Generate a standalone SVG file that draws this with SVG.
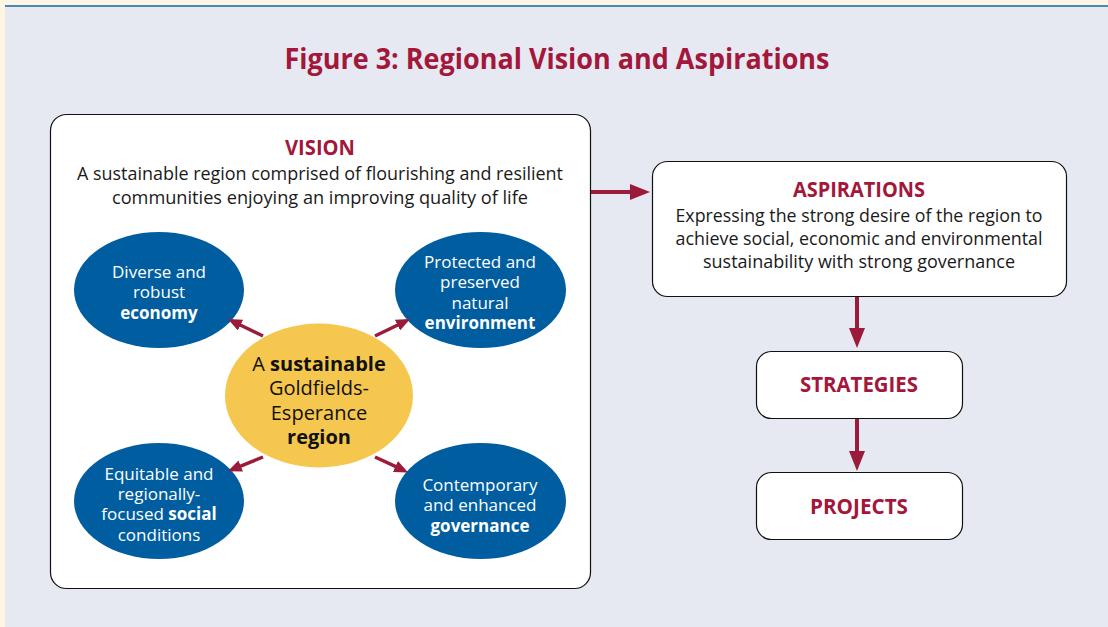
<svg xmlns="http://www.w3.org/2000/svg" width="1108" height="627" viewBox="0 0 1108 627">
<defs>
<style>
.hd{font-family:"Open Sans","Liberation Sans",sans-serif;font-weight:bold;fill:#A3173B;text-anchor:middle}
.bt{font-family:"Open Sans","Liberation Sans",sans-serif;fill:#1a1a1a;text-anchor:middle;font-size:18px}
.wt{font-family:"Open Sans","Liberation Sans",sans-serif;fill:#ffffff;text-anchor:middle;font-size:17px}
.ct{font-family:"Open Sans","Liberation Sans",sans-serif;fill:#111;text-anchor:middle;font-size:20px}
.box{fill:#ffffff;stroke:#111;stroke-width:1.2}
.blue{fill:#005EA0}
.con{stroke:#9B1B3A;fill:none}
</style>
<marker id="big" markerUnits="userSpaceOnUse" markerWidth="20" markerHeight="16" refX="14" refY="8" orient="auto">
<path d="M0,0 L20,8 L0,16 z" fill="#9B1B3A"/>
</marker>
<marker id="small" markerUnits="userSpaceOnUse" markerWidth="14" markerHeight="12" refX="10" refY="6" orient="auto">
<path d="M0,0 L14,6 L0,12 z" fill="#9B1B3A"/>
</marker>
</defs>
<rect x="0" y="0" width="1108" height="627" fill="#FFF5E4"/>
<rect x="5" y="6" width="1103" height="621" fill="#E6E9F2"/>
<line x1="5" y1="6" x2="1108" y2="6" stroke="#4A8AB5" stroke-width="2"/>
<text class="hd" x="557" y="69" font-size="29" textLength="545" lengthAdjust="spacingAndGlyphs">Figure 3: Regional Vision and Aspirations</text>

<g id="vision">
<rect class="box" x="50.5" y="114.5" width="540" height="474" rx="16" ry="16"/>
<text class="hd" x="320" y="155" font-size="22" textLength="70" lengthAdjust="spacingAndGlyphs">VISION</text>
<text class="bt" x="320" y="180" textLength="486" lengthAdjust="spacingAndGlyphs">A sustainable region comprised of flourishing and resilient</text>
<text class="bt" x="320" y="204" textLength="416" lengthAdjust="spacingAndGlyphs">communities enjoying an improving quality of life</text>
</g>

<g id="economy">
<ellipse class="blue" cx="159" cy="290" rx="85" ry="58"/>
<text class="wt" x="159" y="278">Diverse and</text>
<text class="wt" x="159" y="298">robust</text>
<text class="wt" x="159" y="319" font-weight="bold">economy</text>
</g>
<g id="environment">
<ellipse class="blue" cx="480.5" cy="290" rx="85.5" ry="58"/>
<text class="wt" x="480" y="268">Protected and</text>
<text class="wt" x="480" y="288">preserved</text>
<text class="wt" x="480" y="309">natural</text>
<text class="wt" x="480" y="329" font-weight="bold">environment</text>
</g>
<g id="social">
<ellipse class="blue" cx="159" cy="501" rx="85" ry="58"/>
<text class="wt" x="159" y="480">Equitable and</text>
<text class="wt" x="159" y="500">regionally-</text>
<text class="wt" x="159" y="520">focused <tspan font-weight="bold">social</tspan></text>
<text class="wt" x="159" y="541">conditions</text>
</g>
<g id="governance">
<ellipse class="blue" cx="480.5" cy="501" rx="85.5" ry="58"/>
<text class="wt" x="480" y="491">Contemporary</text>
<text class="wt" x="480" y="511">and enhanced</text>
<text class="wt" x="480" y="532" font-weight="bold">governance</text>
</g>
<g id="centre">
<ellipse cx="319" cy="395.5" rx="94" ry="72" fill="#F5C74E"/>
<text class="ct" x="319" y="371">A <tspan font-weight="bold">sustainable</tspan></text>
<text class="ct" x="319" y="395">Goldfields-</text>
<text class="ct" x="319" y="420">Esperance</text>
<text class="ct" x="319" y="444" font-weight="bold">region</text>
</g>

<g id="aspirations">
<rect class="box" x="652.5" y="161.5" width="414" height="135" rx="15" ry="15"/>
<text class="hd" x="859" y="197" font-size="22" textLength="132" lengthAdjust="spacingAndGlyphs">ASPIRATIONS</text>
<text class="bt" x="859" y="222" textLength="367" lengthAdjust="spacingAndGlyphs">Expressing the strong desire of the region to</text>
<text class="bt" x="859" y="245" textLength="367" lengthAdjust="spacingAndGlyphs">achieve social, economic and environmental</text>
<text class="bt" x="859" y="268" textLength="312" lengthAdjust="spacingAndGlyphs">sustainability with strong governance</text>
</g>
<g id="strategies">
<rect class="box" x="756.5" y="351.5" width="206" height="67" rx="15" ry="15"/>
<text class="hd" x="859" y="392" font-size="22" textLength="118" lengthAdjust="spacingAndGlyphs">STRATEGIES</text>
</g>
<g id="projects">
<rect class="box" x="756.5" y="472.5" width="206" height="67" rx="15" ry="15"/>
<text class="hd" x="859" y="514" font-size="22" textLength="98" lengthAdjust="spacingAndGlyphs">PROJECTS</text>
</g>

<g id="connectors" class="con">
<line x1="591" y1="192" x2="644" y2="192" stroke-width="4" marker-end="url(#big)"/>
<line x1="857" y1="297" x2="857" y2="342" stroke-width="4" marker-end="url(#big)"/>
<line x1="857" y1="419" x2="857" y2="465" stroke-width="4" marker-end="url(#big)"/>
<line x1="263" y1="336" x2="231.5" y2="320.7" stroke-width="3.5" marker-end="url(#small)"/>
<line x1="375" y1="336" x2="406.5" y2="320.7" stroke-width="3.5" marker-end="url(#small)"/>
<line x1="263" y1="457" x2="231.5" y2="469.8" stroke-width="3.5" marker-end="url(#small)"/>
<line x1="375" y1="457" x2="404.5" y2="470.7" stroke-width="3.5" marker-end="url(#small)"/>
</g>
</svg>
